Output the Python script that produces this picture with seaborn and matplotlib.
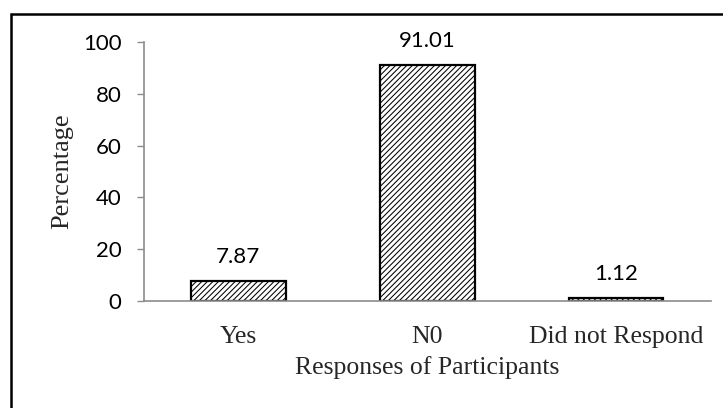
import matplotlib
matplotlib.use("Agg")
import matplotlib.pyplot as plt
from matplotlib.patches import Rectangle
import seaborn as sns
import pandas as pd

categories = ["Yes", "N0", "Did not Respond"]
percentages = [7.87, 91.01, 1.12]
y_ticks = [0, 20, 40, 60, 80, 100]

df = pd.DataFrame({"response": categories, "pct": percentages})

sns.set_theme(style="white")
plt.rcParams["font.family"] = ["Lato", "DejaVu Sans"]
plt.rcParams["hatch.linewidth"] = 0.75

fig = plt.figure(figsize=(7.23, 4.08), dpi=100)
ax = fig.add_axes([0.199, 0.262, 0.784, 0.635])

sns.barplot(data=df, x="response", y="pct", ax=ax, color="white",
            width=0.5, edgecolor="black", linewidth=1.6, hatch="//////",
            errorbar=None)

# value labels above each bar
for p, v in zip(ax.patches, percentages):
    ax.annotate(f"{v:.2f}", (p.get_x() + p.get_width() / 2, p.get_height()),
                xytext=(0, 13), textcoords="offset points", ha="center",
                va="baseline", fontsize=16, color="black")

ax.set_xlim(-0.5, 2.5)
ax.set_ylim(0, 100)
ax.set_yticks(y_ticks)
ax.tick_params(axis="y", which="both", left=True, length=5, width=1,
               color="#8c8c8c", labelsize=16, labelcolor="black", pad=11)
ax.tick_params(axis="x", bottom=False, labelsize=18.5, pad=12)
for lab in ax.get_xticklabels():
    lab.set_fontfamily("Liberation Serif")

for side in ("top", "right"):
    ax.spines[side].set_visible(False)
for side in ("left", "bottom"):
    ax.spines[side].set_color("#8c8c8c")
    ax.spines[side].set_linewidth(1.2)

ax.set_xlabel("Responses of Participants", fontsize=18.5,
              fontfamily="Liberation Serif", labelpad=6)
ax.set_ylabel("Percentage", fontsize=19, fontfamily="Liberation Serif",
              labelpad=7)

# outer frame (only the left and top edges fall inside the canvas)
fig.patches.append(Rectangle((11 / 723, -0.5), 1.5, 1.5 - 14 / 408,
                             transform=fig.transFigure, fill=False,
                             edgecolor="black", linewidth=1.8))

fig.savefig("out.png", dpi=100, facecolor="white")
